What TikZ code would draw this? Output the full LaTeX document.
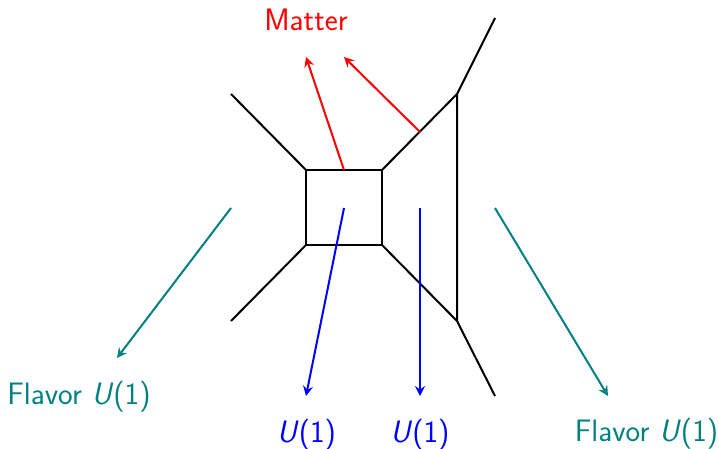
\documentclass[tikz,border=0pt]{standalone}
\usetikzlibrary{arrows.meta}
\definecolor{myteal}{RGB}{0,128,128}
\newcommand{\ua}{\textsl{U}(1)}
\tikzset{
 web/.style={black,line width=2pt},
 arr/.style={line width=2pt,-{Stealth[length=10pt,width=10pt,inset=3.5pt]}},
 lbl/.style={font=\fontsize{31}{36}\selectfont\sffamily,inner sep=0pt,anchor=center},
}
\begin{document}
\begin{tikzpicture}[x=1pt,y=-1pt,line join=round]
\useasboundingbox (0,0) rectangle (719,449);
\coordinate (a) at (306,170);\coordinate (b) at (382,170);\coordinate (c) at (382,245);\coordinate (d) at (306,245);
\coordinate (e) at (457,94);\coordinate (f) at (457,321);
\coordinate (g) at (231,94);\coordinate (h) at (231,321);\coordinate (i) at (495,18);\coordinate (j) at (495,396);
\draw[web] (a)--(b)--(c)--(d)--cycle;
\draw[web] (g)--(a) (h)--(d) (b)--(e)--(f)--(c) (e)--(i) (f)--(j);
\node[lbl,red] (m) at (306,19.5) {Matter};
\node[lbl,blue] (u1) at (306.5,434.5) {\ua};
\node[lbl,blue] (u2) at (420,434.5) {\ua};
\node[lbl,myteal] (f1) at (79,396.5) {Flavor \ua};
\node[lbl,myteal] (f2) at (646.5,433.5) {Flavor \ua};
\coordinate (r1) at (344,170);\coordinate (r1e) at (306,57);
\coordinate (r2) at (420,132);\coordinate (r2e) at (344,57);
\draw[arr,red] (r1)--(r1e);
\draw[arr,red] (r2)--(r2e);
\coordinate (b1) at (344,208);\coordinate (b1e) at (306,396);
\coordinate (b2) at (420,208);\coordinate (b2e) at (420,396);
\draw[arr,blue] (b1)--(b1e);
\draw[arr,blue] (b2)--(b2e);
\coordinate (t1) at (231,208);\coordinate (t1e) at (117,358);
\coordinate (t2) at (495,208);\coordinate (t2e) at (608,396);
\draw[arr,myteal] (t1)--(t1e);
\draw[arr,myteal] (t2)--(t2e);
\end{tikzpicture}
\end{document}
